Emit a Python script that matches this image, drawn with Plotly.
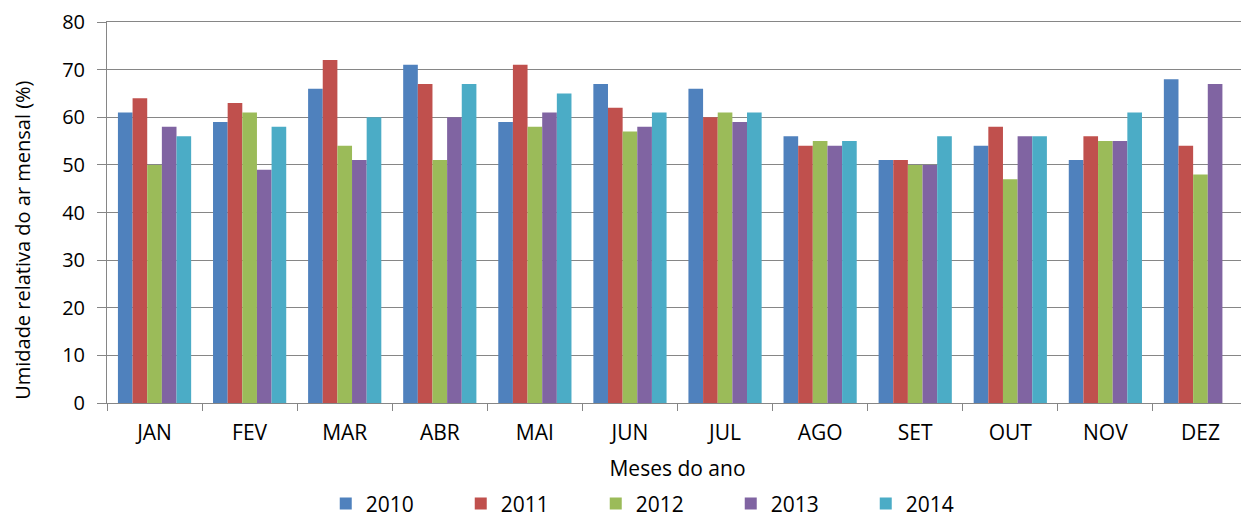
import plotly.graph_objects as go

months = ["JAN", "FEV", "MAR", "ABR", "MAI", "JUN", "JUL", "AGO", "SET", "OUT", "NOV", "DEZ"]
y2010 = [61, 59, 66, 71, 59, 67, 66, 56, 51, 54, 51, 68]
y2011 = [64, 63, 72, 67, 71, 62, 60, 54, 51, 58, 56, 54]
y2012 = [50, 61, 54, 51, 58, 57, 61, 55, 50, 47, 55, 48]
y2013 = [58, 49, 51, 60, 61, 58, 59, 54, 50, 56, 55, 67]
y2014 = [56, 58, 60, 67, 65, 61, 61, 55, 56, 56, 61, None]

series = [("2010", y2010, "#4F81BD"), ("2011", y2011, "#C0504D"), ("2012", y2012, "#9BBB59"),
          ("2013", y2013, "#8064A2"), ("2014", y2014, "#4BACC6")]

fig = go.Figure()
for name, vals, col in series:
    fig.add_trace(go.Bar(x=months, y=vals, name=name, marker=dict(color=col, line=dict(width=0))))

font = "Open Sans, Liberation Sans, sans-serif"
fig.update_layout(
    width=1241, height=507,
    margin=dict(l=99, r=1, t=14, b=112),
    paper_bgcolor="white", plot_bgcolor="white",
    barmode="group", bargap=0.23, bargroupgap=0,
    font=dict(family=font, size=21, color="#000000"),
    legend=dict(orientation="h", x=0.528, xanchor="center", xref="container",
                y=0.022, yanchor="middle", yref="container",
                font=dict(size=21), entrywidth=90, itemwidth=30),
    xaxis=dict(showline=True, linecolor="#868686", ticks="outside", tickson="boundaries",
               mirror=True,
               ticklen=7, tickcolor="#868686", tickfont=dict(size=21), automargin=False,
               ticklabelstandoff=11,
               title=dict(text="Meses do ano", font=dict(size=21), standoff=16)),
    yaxis=dict(range=[0, 80], tickvals=[0, 10, 20, 30, 40, 50, 60, 70, 80],
               showgrid=True, gridcolor="#868686", gridwidth=1,
               showline=True, linecolor="#868686", ticks="outside", ticklen=9, tickcolor="#868686",
               tickfont=dict(size=20), zeroline=False, automargin=False,
               ticklabelstandoff=8, ticklabeloverflow="allow"),
    annotations=[dict(text="Umidade relativa do ar mensal (%)", textangle=-90,
                      xref="paper", yref="paper", x=-0.0736, y=0.4256,
                      xanchor="center", yanchor="middle", showarrow=False,
                      font=dict(size=20, family=font))],
)
fig.write_html("out.html")
